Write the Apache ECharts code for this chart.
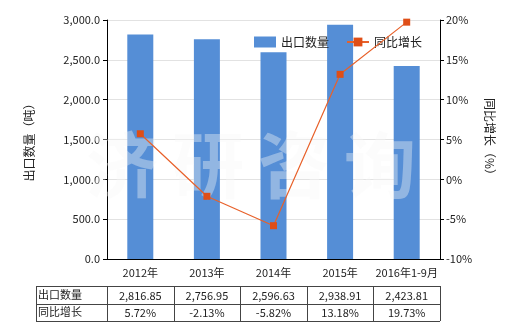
<!DOCTYPE html>
<html><head><meta charset="utf-8">
<script src="https://cdn.jsdelivr.net/npm/echarts@6/dist/echarts.min.js"></script>
<style>html,body{margin:0;padding:0;background:#fff}#c{width:520px;height:330px}</style>
</head><body><div id="c"></div>
<script>
var categories = ['2012年','2013年','2014年','2015年','2016年1-9月'];
var exportQty = [2816.85, 2756.95, 2596.63, 2938.91, 2423.81];
var yoyGrowth = [5.72, -2.13, -5.82, 13.18, 19.73];
var leftTicks = {min: 0, max: 3000, interval: 500};
var rightTicks = {min: -10, max: 20, interval: 5};
var rowNames = ['出口数量', '同比增长'];
var watermarkChars = ['济','研','咨','询'];

var FONT = '"Noto Sans CJK SC", "Noto Sans", sans-serif';
var chart = echarts.init(document.getElementById('c'), null, {renderer: 'canvas'});
var G = {left: 107, right: 80, top: 20, bottom: 71};

function fmtNum(v, d) {
  var s = v.toFixed(d).split('.');
  s[0] = s[0].replace(/\B(?=(\d{3})+(?!\d))/g, ',');
  return s.join('.');
}

chart.setOption({
  animation: false,
  textStyle: {fontFamily: FONT},
  grid: G,
  legend: {
    left: 249, top: 31, itemWidth: 22, itemHeight: 11, itemGap: 17,
    textStyle: {fontSize: 12, color: '#222', fontFamily: FONT},
    data: [{name: '出口数量', icon: 'rect'}, {name: '同比增长'}]
  },
  xAxis: {
    type: 'category', data: categories,
    axisLine: {lineStyle: {color: '#000'}},
    axisTick: {alignWithLabel: true, lineStyle: {color: '#000'}, length: 4},
    axisLabel: {interval: 0, fontSize: 11, color: '#222', margin: 8, fontFamily: FONT}
  },
  yAxis: [{
    type: 'value', min: leftTicks.min, max: leftTicks.max, interval: leftTicks.interval,
    name: '出口数量（吨）', nameLocation: 'middle', nameRotate: 90, nameGap: 72,
    nameTextStyle: {fontSize: 12, color: '#222', fontFamily: FONT},
    axisLine: {show: true, lineStyle: {color: '#000'}},
    axisTick: {show: true, length: 4, lineStyle: {color: '#000'}},
    axisLabel: {fontSize: 11, color: '#222', margin: 7, formatter: function (v) { return fmtNum(v, 1); }},
    splitLine: {lineStyle: {color: '#e2e2e2'}}
  }, {
    type: 'value', min: rightTicks.min, max: rightTicks.max, interval: rightTicks.interval,
    name: '同比增长（%）', nameLocation: 'middle', nameRotate: -90, nameGap: 44,
    nameTextStyle: {fontSize: 12, color: '#222', fontFamily: FONT},
    axisLine: {show: true, lineStyle: {color: '#000'}},
    axisTick: {show: true, length: 4, lineStyle: {color: '#000'}},
    axisLabel: {fontSize: 11, color: '#222', margin: 6, formatter: '{value}%'},
    splitLine: {show: false}
  }],
  series: [{
    name: '出口数量', type: 'bar', data: exportQty, barWidth: 26,
    itemStyle: {color: '#558ED6'}, z: 2
  }, {
    name: '同比增长', type: 'line', yAxisIndex: 1, data: yoyGrowth,
    symbol: 'rect', symbolSize: 7, z: 5,
    lineStyle: {color: '#E8612A', width: 1.2},
    itemStyle: {color: '#DF4E17'}
  }]
});

function buildGraphics() {
  var els = [];
  watermarkChars.forEach(function (ch, i) {
    els.push({type: 'text', z: 3, silent: true,
      style: {text: ch, x: 122 + i * 86, y: 165, font: 'bold 72px ' + FONT,
        fill: 'rgba(248,248,248,0.38)', align: 'center', verticalAlign: 'middle'}});
  });
  var x0 = 36, top = 286, rowH = 17.5;
  var centers = categories.map(function (c) { return chart.convertToPixel({xAxisIndex: 0}, c); });
  var step = centers[1] - centers[0];
  var colEdges = [x0, centers[0] - step / 2];
  centers.forEach(function (c) { colEdges.push(c + step / 2); });
  var xEnd = colEdges[colEdges.length - 1];
  var lineStyle = {stroke: '#444', lineWidth: 1};
  for (var r = 0; r <= 2; r++) {
    var yy = Math.round(top + r * rowH) + 0.5;
    els.push({type: 'line', shape: {x1: x0, y1: yy, x2: xEnd, y2: yy}, style: lineStyle});
  }
  colEdges.forEach(function (xe) {
    var xx = Math.round(xe) + 0.5;
    els.push({type: 'line', shape: {x1: xx, y1: top, x2: xx, y2: top + 2 * rowH}, style: lineStyle});
  });
  var rows = [exportQty.map(function (v) { return fmtNum(v, 2); }),
              yoyGrowth.map(function (v) { return v.toFixed(2) + '%'; })];
  rowNames.forEach(function (n, r) {
    var cy = top + r * rowH + rowH / 2;
    els.push({type: 'text', style: {text: n, x: x0 + 2, y: cy, font: '11px ' + FONT, fill: '#222', verticalAlign: 'middle'}});
    rows[r].forEach(function (t, i) {
      els.push({type: 'text', style: {text: t, x: centers[i], y: cy + 1, font: '11px ' + FONT, fill: '#222', align: 'center', verticalAlign: 'middle'}});
    });
  });
  chart.setOption({graphic: {elements: els}});
}
buildGraphics();
</script></body></html>
